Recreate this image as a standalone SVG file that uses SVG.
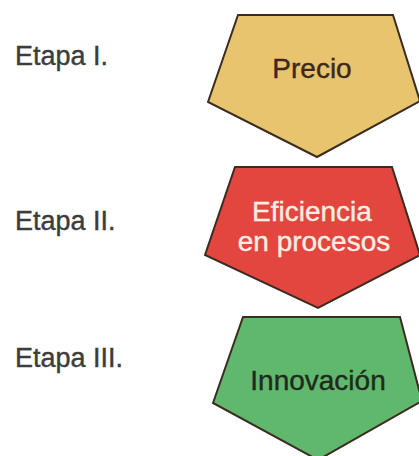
<svg xmlns="http://www.w3.org/2000/svg" width="419" height="456" viewBox="0 0 419 456">
<style>
.bg{fill:#ffffff}
.shape{stroke:#3b2c22;stroke-width:2;stroke-linejoin:miter}
.stage{font-family:"Liberation Sans",Arial,sans-serif;font-size:27px;fill:#3c3c3c;stroke:#3c3c3c;stroke-width:0.4}
.lbl{font-family:"Liberation Sans",Arial,sans-serif;font-size:28px;text-anchor:middle;stroke-width:0.4}
</style>
<rect class="bg" x="0" y="0" width="419" height="456"/>
<g id="etapa1"><text class="stage" x="15" y="65">Etapa I.</text></g>
<g id="etapa2"><text class="stage" x="15" y="230">Etapa II.</text></g>
<g id="etapa3"><text class="stage" x="15" y="367">Etapa III.</text></g>
<g id="precio">
<polygon class="shape" fill="#e9c46e" points="238,15 393,15 420,101 317,157 208,102"/>
<text class="lbl" x="312" y="78" fill="#3a2a1c" stroke="#3a2a1c" font-size="30">Precio</text>
</g>
<g id="eficiencia">
<polygon class="shape" fill="#e2463f" points="235,167 392,167 420,255 318,308 205,255"/>
<text class="lbl" x="312" y="221" fill="#fbeee4" stroke="#fbeee4" font-size="27">Eficiencia</text>
<text class="lbl" x="314" y="251" fill="#fbeee4" stroke="#fbeee4" font-size="27">en procesos</text>
</g>
<g id="innovacion">
<polygon class="shape" fill="#5fb86b" points="243,317 400,317 422,401 318,460 213,403"/>
<text class="lbl" x="318" y="390" fill="#1f2a1f" stroke="#1f2a1f" font-size="29">Innovación</text>
</g>
<g id="connectors"></g>
</svg>
